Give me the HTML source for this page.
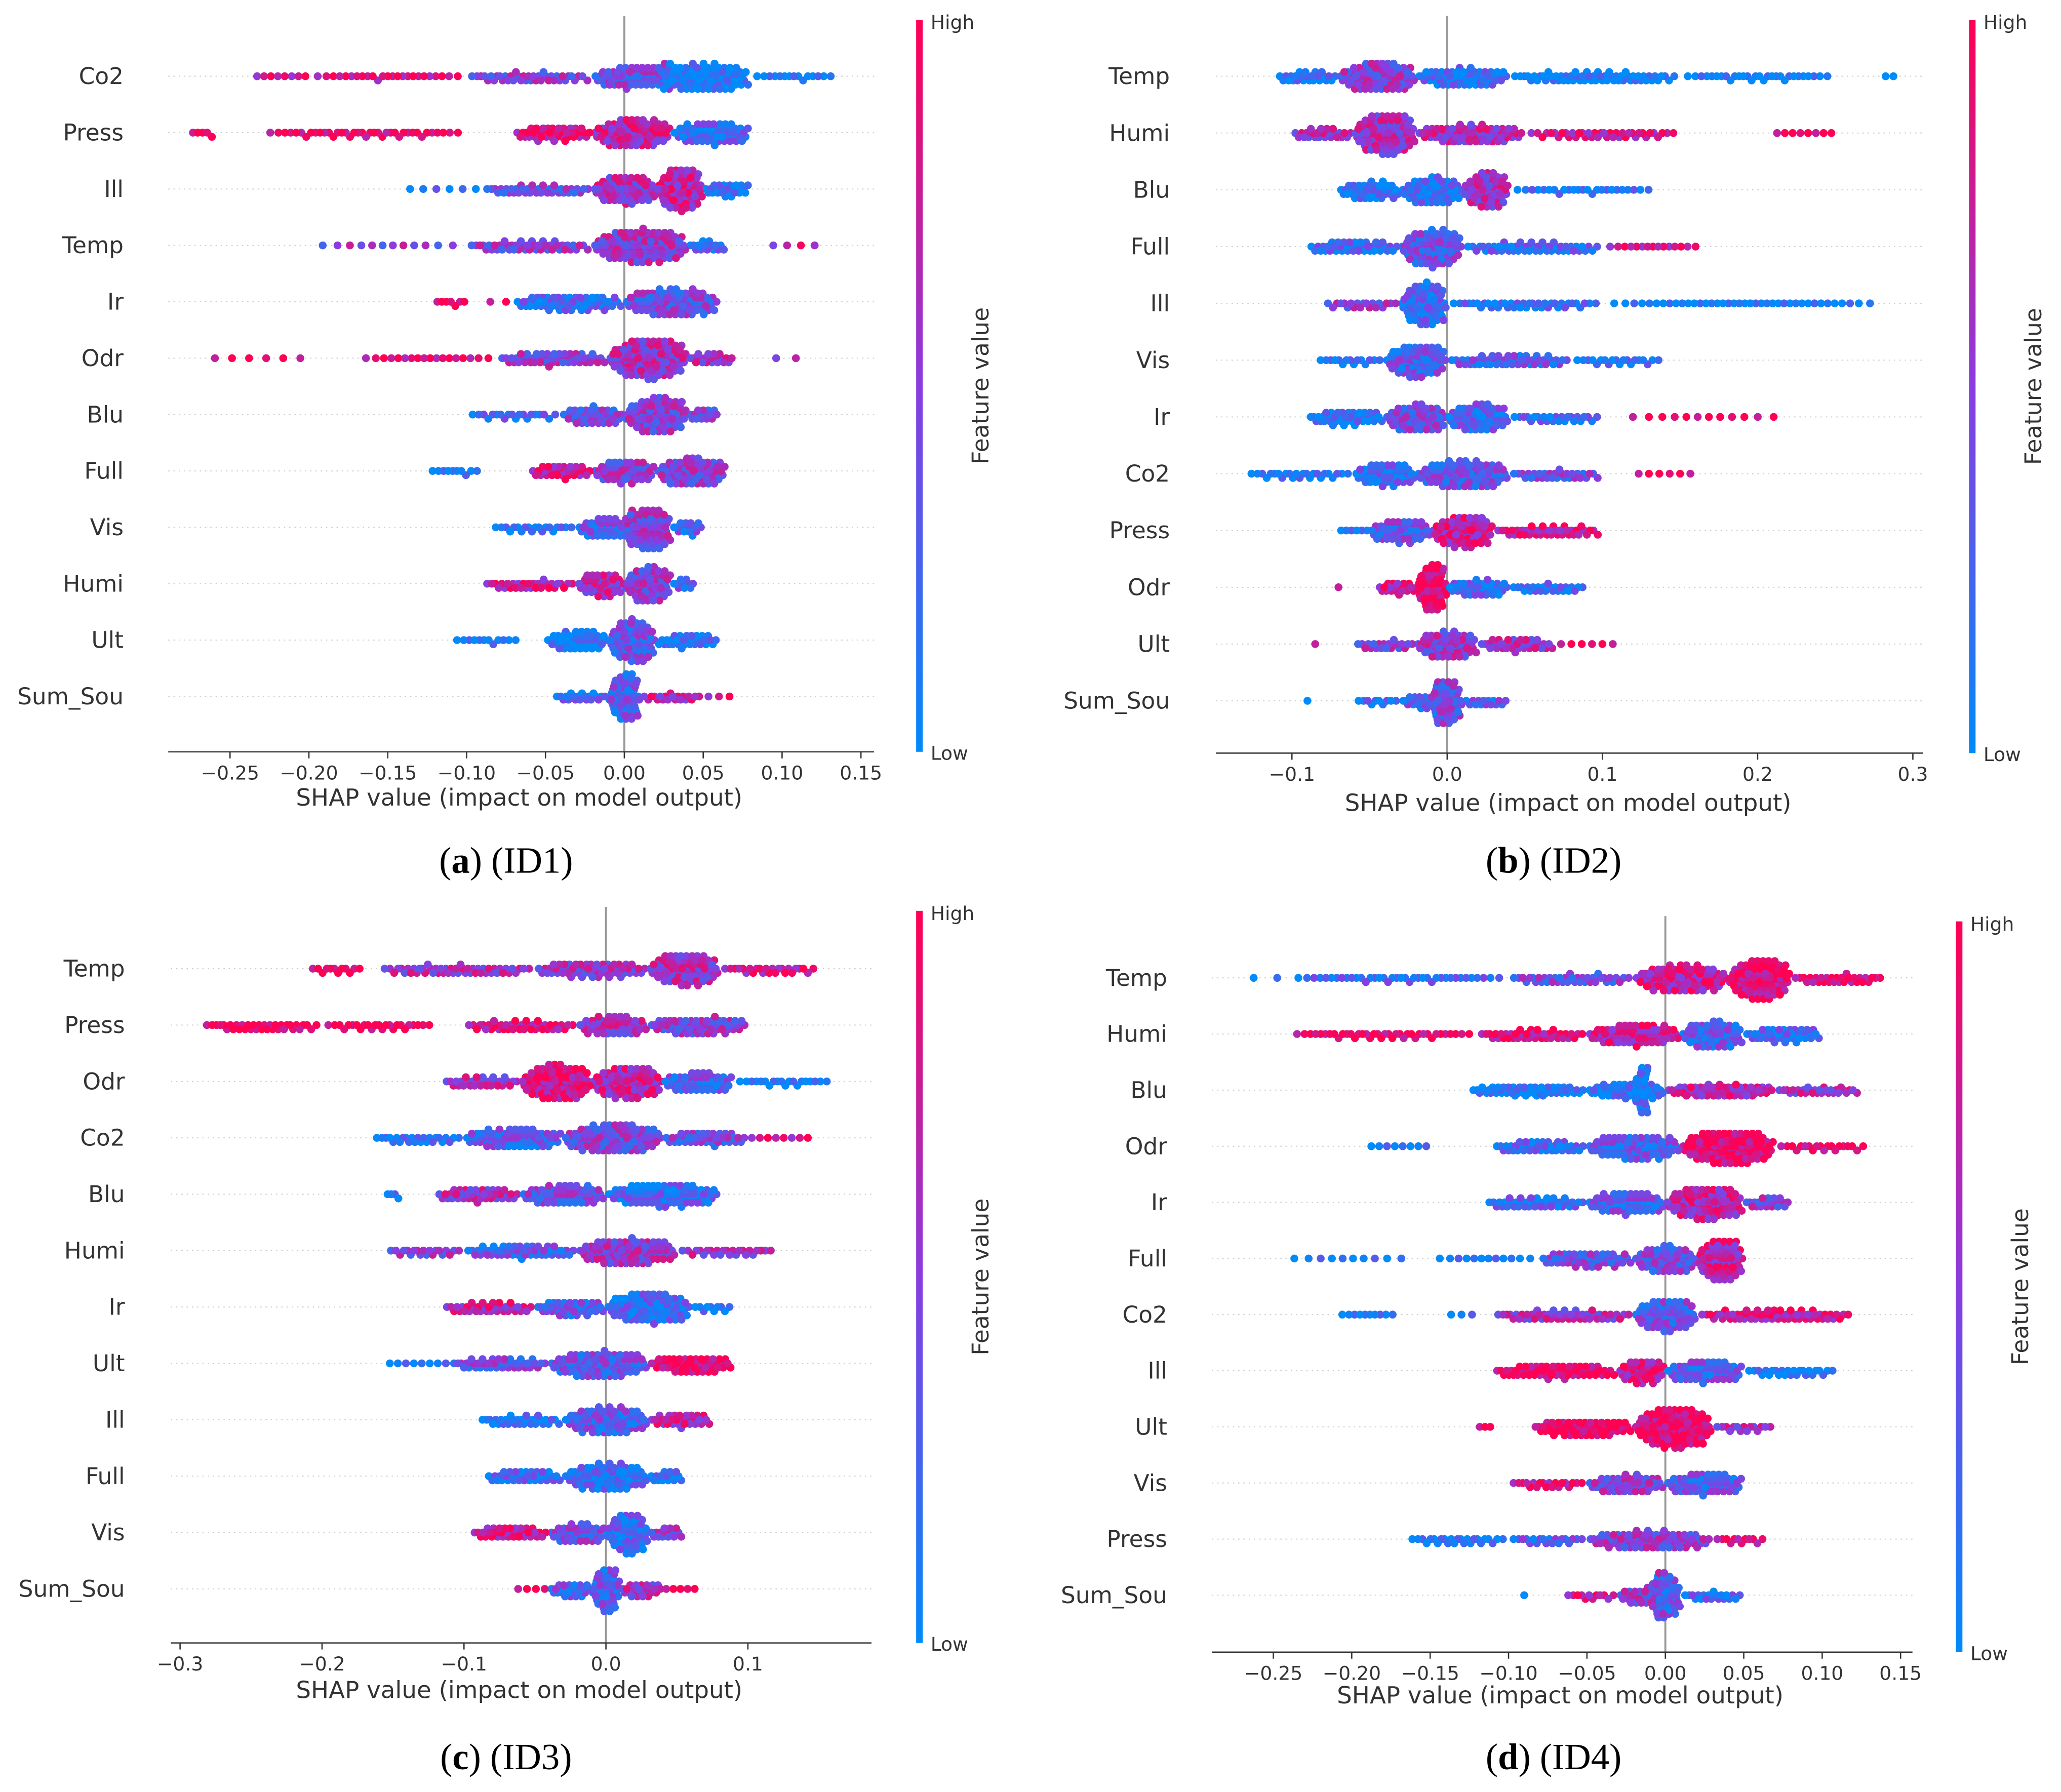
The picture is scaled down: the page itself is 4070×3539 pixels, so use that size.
<!DOCTYPE html>
<html><head><meta charset="utf-8">
<style>
html,body{margin:0;padding:0;background:#fff;}
svg{display:block;font-family:"DejaVu Sans","Liberation Sans",sans-serif;}
</style></head>
<body>
<svg id="chart" width="4070" height="3539" viewBox="0 0 1568 1363.4" xmlns="http://www.w3.org/2000/svg"></svg>
<script>
// ---- data: features per panel ----
const featuresA = ["Co2","Press","Ill","Temp","Ir","Odr","Blu","Full","Vis","Humi","Ult","Sum_Sou"];
const featuresB = ["Temp","Humi","Blu","Full","Ill","Vis","Ir","Co2","Press","Odr","Ult","Sum_Sou"];
const featuresC = ["Temp","Press","Odr","Co2","Blu","Humi","Ir","Ult","Ill","Full","Vis","Sum_Sou"];
const featuresD = ["Temp","Humi","Blu","Odr","Ir","Full","Co2","Ill","Ult","Vis","Press","Sum_Sou"];
// clusters: [lowSHAP, highSHAP, count, featureValue(0 low..1 high)]
const clustersA = [
 [[-0.235,-0.2,8,0.8],[-0.2,-0.1,25,0.85],[-0.1,-0.02,40,0.5],[-0.02,0.03,60,0.4],[0.02,0.08,90,0.05],[0.08,0.135,15,0.0]],
 [[-0.275,-0.26,5,1],[-0.23,-0.1,40,0.95],[-0.07,-0.02,40,0.85],[-0.02,0.03,80,0.7],[0.03,0.08,60,0.2]],
 [[-0.14,-0.09,6,0.1],[-0.09,-0.02,40,0.4],[-0.02,0.02,70,0.6],[0.02,0.05,80,0.7],[0.05,0.08,25,0.1]],
 [[-0.2,-0.1,12,0.5],[-0.1,-0.02,45,0.5],[-0.02,0.04,110,0.55],[0.04,0.065,15,0.2],[0.09,0.125,4,0.7]],
 [[-0.12,-0.1,7,1],[-0.09,-0.07,2,1],[-0.07,0,60,0.2],[0,0.06,90,0.4]],
 [[-0.265,-0.2,6,1],[-0.17,-0.08,18,0.9],[-0.08,-0.01,50,0.5],[-0.01,0.04,110,0.6],[0.04,0.07,20,0.6],[0.09,0.115,2,0.7]],
 [[-0.1,-0.04,20,0.2],[-0.04,0.0,40,0.4],[0.0,0.04,80,0.5],[0.04,0.06,15,0.4]],
 [[-0.125,-0.09,10,0.05],[-0.06,-0.02,30,0.8],[-0.02,0.02,50,0.5],[0.02,0.065,70,0.5]],
 [[-0.085,-0.03,20,0.1],[-0.03,0.005,40,0.3],[0.0,0.03,70,0.5],[0.03,0.05,15,0.3]],
 [[-0.09,-0.03,30,0.75],[-0.03,0.0,40,0.65],[0,0.03,60,0.5],[0.03,0.045,10,0.3]],
 [[-0.11,-0.065,12,0.05],[-0.05,-0.01,45,0.05],[-0.01,0.02,70,0.35],[0.02,0.06,30,0.1]],
 [[-0.045,-0.01,20,0.2],[-0.01,0.01,70,0.3],[0.01,0.05,20,0.7],[0.05,0.07,3,0.8]]
];
const clustersB = [
 [[-0.11,-0.07,25,0.1],[-0.07,-0.02,80,0.5],[-0.02,0.04,60,0.15],[0.04,0.15,60,0.0],[0.15,0.25,30,0.0],[0.28,0.29,2,0]],
 [[-0.1,-0.06,25,0.6],[-0.06,-0.02,90,0.6],[-0.02,0.05,70,0.65],[0.05,0.15,40,0.8],[0.21,0.25,8,1]],
 [[-0.07,-0.03,40,0.1],[-0.03,0.01,60,0.15],[0.01,0.04,60,0.6],[0.04,0.135,25,0.1]],
 [[-0.09,-0.03,40,0.2],[-0.03,0.01,80,0.35],[0.01,0.1,50,0.2],[0.1,0.165,15,0.8]],
 [[-0.08,-0.03,20,0.5],[-0.03,0.0,70,0.2],[0.0,0.1,40,0.15],[0.1,0.28,40,0.0]],
 [[-0.085,-0.04,15,0.1],[-0.04,0.0,70,0.3],[0.0,0.08,50,0.3],[0.08,0.14,20,0.1]],
 [[-0.09,-0.04,40,0.1],[-0.04,0.0,60,0.4],[0.0,0.04,60,0.25],[0.04,0.1,25,0.2],[0.11,0.22,12,1]],
 [[-0.13,-0.06,25,0.05],[-0.06,-0.02,50,0.2],[-0.02,0.04,90,0.35],[0.04,0.1,30,0.4],[0.12,0.16,6,1]],
 [[-0.07,-0.05,6,0.1],[-0.05,-0.01,50,0.35],[-0.01,0.03,70,0.75],[0.03,0.1,40,0.8]],
 [[-0.07,-0.06,1,1],[-0.045,-0.02,20,0.8],[-0.02,0.0,60,0.95],[0.0,0.04,40,0.2],[0.04,0.09,25,0.15]],
 [[-0.085,-0.08,1,1],[-0.06,-0.02,20,0.5],[-0.02,0.02,60,0.55],[0.02,0.07,35,0.6],[0.07,0.11,6,1]],
 [[-0.09,-0.09,1,0.1],[-0.06,-0.03,10,0.15],[-0.03,0.0,25,0.3],[-0.01,0.01,50,0.4],[0.01,0.04,15,0.3]]
];
const clustersC = [
 [[-0.21,-0.17,12,1],[-0.16,-0.05,50,0.6],[-0.05,0.03,60,0.55],[0.03,0.08,80,0.6],[0.08,0.15,25,0.8]],
 [[-0.285,-0.2,35,1],[-0.2,-0.12,25,1],[-0.1,-0.02,40,0.85],[-0.02,0.03,50,0.6],[0.03,0.1,60,0.5]],
 [[-0.115,-0.06,30,0.6],[-0.06,-0.01,90,0.85],[-0.01,0.04,80,0.7],[0.04,0.09,50,0.3],[0.09,0.16,20,0]],
 [[-0.165,-0.1,25,0.1],[-0.1,-0.03,70,0.3],[-0.03,0.04,100,0.45],[0.04,0.1,40,0.4],[0.1,0.145,8,0.8]],
 [[-0.155,-0.145,4,0.1],[-0.12,-0.06,40,0.6],[-0.06,0.0,60,0.4],[0.0,0.08,90,0.2]],
 [[-0.155,-0.1,20,0.5],[-0.1,-0.02,50,0.3],[-0.02,0.05,90,0.55],[0.05,0.12,25,0.6]],
 [[-0.115,-0.05,35,0.7],[-0.05,0.0,40,0.3],[0.0,0.06,90,0.2],[0.06,0.09,10,0.1]],
 [[-0.155,-0.11,8,0.05],[-0.11,-0.04,40,0.4],[-0.04,0.03,90,0.35],[0.03,0.09,50,0.95]],
 [[-0.09,-0.03,30,0.1],[-0.03,0.03,80,0.3],[0.03,0.075,30,0.7]],
 [[-0.085,-0.03,35,0.2],[-0.03,0.03,80,0.15],[0.03,0.055,15,0.1]],
 [[-0.095,-0.04,35,0.8],[-0.04,0.0,40,0.4],[0.0,0.03,60,0.2],[0.03,0.055,15,0.5]],
 [[-0.065,-0.04,4,1],[-0.04,-0.01,25,0.3],[-0.01,0.01,50,0.3],[0.01,0.04,25,0.6],[0.04,0.065,5,1]]
];
const clustersD = [
 [[-0.27,-0.24,2,0.2],[-0.24,-0.1,40,0.2],[-0.1,-0.02,40,0.4],[-0.02,0.04,90,0.75],[0.04,0.08,90,0.9],[0.08,0.14,30,0.9]],
 [[-0.24,-0.12,40,0.95],[-0.12,-0.05,40,0.85],[-0.05,0.01,70,0.75],[0.01,0.05,60,0.3],[0.05,0.1,40,0.2]],
 [[-0.125,-0.05,60,0.05],[-0.05,0.0,60,0.1],[-0.02,-0.01,30,0.1],[0.0,0.07,70,0.7],[0.07,0.125,30,0.6]],
 [[-0.19,-0.15,8,0.05],[-0.11,-0.05,40,0.2],[-0.05,0.01,80,0.3],[0.01,0.07,110,0.95],[0.07,0.13,20,0.95]],
 [[-0.115,-0.05,40,0.2],[-0.05,0.0,60,0.3],[0.0,0.05,90,0.7],[0.05,0.08,20,0.5]],
 [[-0.245,-0.16,10,0.05],[-0.15,-0.08,12,0.05],[-0.08,-0.02,50,0.4],[-0.02,0.02,60,0.4],[0.02,0.05,70,0.7]],
 [[-0.21,-0.17,10,0.05],[-0.14,-0.12,3,0.05],[-0.11,-0.02,50,0.6],[-0.02,0.02,70,0.35],[0.02,0.12,60,0.8]],
 [[-0.11,-0.03,60,0.95],[-0.03,0.0,40,0.8],[0.0,0.05,60,0.3],[0.05,0.11,25,0.05]],
 [[-0.12,-0.11,3,1],[-0.085,-0.02,60,1],[-0.02,0.03,110,0.95],[0.03,0.07,15,0.6]],
 [[-0.1,-0.05,20,0.85],[-0.05,0.0,50,0.5],[0.0,0.05,60,0.3]],
 [[-0.165,-0.1,25,0.05],[-0.1,-0.05,20,0.3],[-0.05,0.03,80,0.5],[0.03,0.065,12,0.9]],
 [[-0.09,-0.09,1,0.1],[-0.065,-0.03,12,0.8],[-0.03,0.0,30,0.5],[-0.01,0.01,50,0.3],[0.01,0.05,20,0.2]]
];
const ticksA = [-0.25,-0.2,-0.15,-0.1,-0.05,0,0.05,0.1,0.15];
const ticksB = [-0.1,0,0.1,0.2,0.3];
const ticksC = [-0.3,-0.2,-0.1,0,0.1];
const ticksD = [-0.25,-0.2,-0.15,-0.1,-0.05,0,0.05,0.1,0.15];
const tickLabelsA = ["\u22120.25","\u22120.20","\u22120.15","\u22120.10","\u22120.05","0.00","0.05","0.10","0.15"];
const tickLabelsB = ["\u22120.1","0.0","0.1","0.2","0.3"];
const tickLabelsC = ["\u22120.3","\u22120.2","\u22120.1","0.0","0.1"];
const tickLabelsD = tickLabelsA;

const NS="http://www.w3.org/2000/svg";
const svg=document.getElementById('chart');
function mk(tag,attrs,parent){const e=document.createElementNS(NS,tag);for(const k in attrs)e.setAttribute(k,attrs[k]);(parent||svg).appendChild(e);return e;}
function color(t){t=Math.max(0,Math.min(1,t));const A=[0,138,250],M=[138,60,224],B=[255,0,82];let a,b,u;if(t<0.5){a=A;b=M;u=t/0.5;}else{a=M;b=B;u=(t-0.5)/0.5;}return `rgb(${Math.round(a[0]+(b[0]-a[0])*u)},${Math.round(a[1]+(b[1]-a[1])*u)},${Math.round(a[2]+(b[2]-a[2])*u)})`;}
function triQ(u){return u<0.5?Math.sqrt(u/2):1-Math.sqrt((1-u)/2);}

const panels=[
 {id:'a',feat:featuresA,cl:clustersA,ticks:ticksA,tl:tickLabelsA,zero:475,scale:1200,ax0:128,ax1:665,axY:572,row0:58,rowSp:42.9,labX:94,lineTop:12,cbX:697,cbTop:15,fvX:752,xlX:395,xlY:613,capX:385,capY:655,cap:'a',id2:'ID1'},
 {id:'b',feat:featuresB,cl:clustersB,ticks:ticksB,tl:tickLabelsB,zero:1101,scale:1181,ax0:925,ax1:1463,axY:573,row0:58,rowSp:43.2,labX:890,lineTop:12,cbX:1498,cbTop:15,fvX:1553,xlX:1193,xlY:617,capX:1182,capY:655,cap:'b',id2:'ID2'},
 {id:'c',feat:featuresC,cl:clustersC,ticks:ticksC,tl:tickLabelsC,zero:461,scale:1080,ax0:130,ax1:663,axY:1250,row0:737,rowSp:42.9,labX:95,lineTop:690,cbX:697,cbTop:693,fvX:752,xlX:395,xlY:1292,capX:385,capY:1337,cap:'c',id2:'ID3'},
 {id:'d',feat:featuresD,cl:clustersD,ticks:ticksD,tl:tickLabelsD,zero:1267,scale:1193,ax0:922,ax1:1455,axY:1257,row0:744,rowSp:42.7,labX:888,lineTop:697,cbX:1488,cbTop:701,fvX:1543,xlX:1187,xlY:1296,capX:1182,capY:1337,cap:'d',id2:'ID4'}
];
const defs=mk('defs',{});
const grad=mk('linearGradient',{id:'cbgrad',x1:0,y1:1,x2:0,y2:0},defs);
[0,0.25,0.5,0.75,1].forEach(o=>mk('stop',{offset:o,'stop-color':color(o)},grad));

panels.forEach(p=>{
 const g=mk('g',{});
 
 
 const X=v=>p.zero+v*p.scale;
 p.feat.forEach((f,i)=>{
  const y=p.row0+i*p.rowSp;
  const gl=mk('line',{x1:p.ax0,x2:p.ax1,y1:y,y2:y,stroke:'#ccc','stroke-width':0.8,'stroke-dasharray':'1,3'},g);
  
  
  const t=mk('text',{x:p.labX,y:y+6,'text-anchor':'end','font-size':17.5,fill:'#333'},g);
  t.textContent=f;
  
  
 });
 const zl=mk('line',{x1:X(0),x2:X(0),y1:p.lineTop,y2:p.axY,stroke:'#999','stroke-width':1.5},g);
 
 
 p.cl.forEach((row,i)=>{
  const y0=p.row0+i*p.rowSp;
  let pts=[];
  row.forEach(c=>{const n=c[2];for(let k=0;k<n;k++){const u=(k+0.5)/n;const q=n>=10?0.55*u+0.45*triQ(u):u;const v=n===1?c[0]:c[0]+(c[1]-c[0])*q;pts.push({v:v,c:c[3]+(((k*7)%5)-2)*0.13});}});
  pts.sort((a,b)=>a.v-b.v);
  const bins={};pts.forEach(q=>{const b=Math.round(X(q.v)/4.2);q.k=bins[b]=(bins[b]||0)+1;});
  let maxk=0;for(const b in bins)maxk=Math.max(maxk,bins[b]);
  const f=Math.min(1,17/(Math.ceil((maxk-1)/2)*3.2+0.001));
  const order=pts.map((q,j)=>[(j*61)%97,q]).sort((a,b)=>a[0]-b[0]).map(a=>a[1]);
  const rg=mk('g',{},g);
  
  
  order.forEach(q=>{
   const k=q.k-1;const off=(k%2?1:-1)*Math.ceil(k/2)*3.2*f;
   const d=mk('circle',{cx:X(q.v).toFixed(1),cy:(y0+off).toFixed(1),r:3,fill:color(q.c)},rg);
   
   
  });
 });
 const ax=mk('line',{x1:p.ax0,x2:p.ax1,y1:p.axY,y2:p.axY,stroke:'#333','stroke-width':1},g);
 
 
 p.ticks.forEach((tv,j)=>{
  mk('line',{x1:X(tv),x2:X(tv),y1:p.axY,y2:p.axY+5,stroke:'#333','stroke-width':1},g);
  const t=mk('text',{x:X(tv),y:p.axY+21,'text-anchor':'middle','font-size':14.5,fill:'#333'},g);
  t.textContent=p.tl[j];
  
  
 });
 const xl=mk('text',{x:p.xlX,y:p.xlY,'text-anchor':'middle','font-size':18,fill:'#333'},g);
 xl.textContent='SHAP value (impact on model output)';
 
 
 const cb=mk('rect',{x:p.cbX,y:p.cbTop,width:5,height:p.axY-p.cbTop,fill:'url(#cbgrad)'},g);
 
 
 const hi=mk('text',{x:p.cbX+11,y:p.cbTop+7,'font-size':14.5,fill:'#333'},g);hi.textContent='High';
 
 
 const lo=mk('text',{x:p.cbX+11,y:p.axY+6,'font-size':14.5,fill:'#333'},g);lo.textContent='Low';
 
 
 const my=(p.cbTop+p.axY)/2;
 const fv=mk('text',{x:p.fvX,y:my,'text-anchor':'middle','font-size':17.5,fill:'#333',transform:`rotate(-90 ${p.fvX} ${my})`},g);
 fv.textContent='Feature value';
 
 
 const cap=mk('text',{x:p.capX,y:p.capY+9,'text-anchor':'middle','font-size':28,fill:'#000','font-family':'"Liberation Serif",serif'},g);
 cap.innerHTML='(<tspan font-weight="bold">'+p.cap+'</tspan>) ('+p.id2+')';
 
 
});
</script>
</body></html>
